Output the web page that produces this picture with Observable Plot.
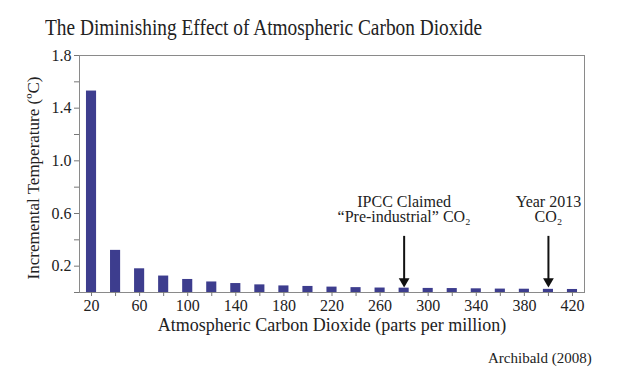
<!DOCTYPE html>
<html>
<head>
<meta charset="utf-8">
<script src="https://cdn.jsdelivr.net/npm/d3@7"></script>
<script src="https://cdn.jsdelivr.net/npm/@observablehq/plot@0.6"></script>
<style>
  body { margin: 0; background: #fff; width: 625px; height: 381px; position: relative; overflow: hidden; font-family: "Liberation Serif", "Times New Roman", serif; }
  #title { position: absolute; left: 45px; top: 15px; font-size: 22.5px; color: #222; white-space: nowrap; transform: scaleX(0.86); transform-origin: 0 0; }
  #caption { position: absolute; left: 488px; top: 350px; font-size: 15px; color: #222; white-space: nowrap; }
  #chart { position: absolute; left: 0; top: 0; }
</style>
</head>
<body>
<div id="chart"></div>
<div id="title">The Diminishing Effect of Atmospheric Carbon Dioxide</div>
<div id="caption">Archibald (2008)</div>
<script>
const ppm = [20, 40, 60, 80, 100, 120, 140, 160, 180, 200, 220, 240, 260, 280, 300, 320, 340, 360, 380, 400, 420];
const temp = [1.53, 0.32, 0.18, 0.125, 0.099, 0.08, 0.068, 0.058, 0.05, 0.046, 0.041, 0.037, 0.034, 0.033, 0.031, 0.030, 0.028, 0.026, 0.025, 0.024, 0.023];
const xTickLabels = [20, 60, 100, 140, 180, 220, 260, 300, 340, 380, 420];
const xMinorTicks = [40, 80, 120, 160, 200, 240, 280, 320, 360, 400];
const yTickLabels = [0.2, 0.6, 1.0, 1.4, 1.8];
const yMinorTicks = [0, 0.4, 0.8, 1.2, 1.6];
const annotPpm = [280, 400];
const annotText = ["IPCC Claimed\n\u201CPre-industrial\u201D CO\u2082", "Year 2013\nCO\u2082"];
const annotTextY = [0.63, 0.63];
const arrowFrom = [0.43, 0.43];
const arrowTo = [0.085, 0.085];
const xLabel = "Atmospheric Carbon Dioxide (parts per million)";
const yLabel = "Incremental Temperature (\u00BAC)";

const bars = ppm.map((p, i) => ({ppm: p, temp: temp[i]}));
const annots = annotPpm.map((p, i) => ({ppm: p, text: annotText[i], ty: annotTextY[i], y1: arrowFrom[i], y2: arrowTo[i]}));

const font = "Liberation Serif, Times New Roman, serif";
const barColor = "#3d3d8e";

const chart = Plot.plot({
  width: 625,
  height: 381,
  marginTop: 55,
  marginBottom: 89,
  marginLeft: 79,
  marginRight: 41,
  style: {fontFamily: font, color: "#222", background: "transparent"},
  x: {type: "linear", domain: [10, 430]},
  y: {domain: [0, 1.8]},
  marks: [
    Plot.rectY(bars, {x1: d => d.ppm - 4.2, x2: d => d.ppm + 4.2, y1: 0, y2: "temp", fill: barColor}),
    Plot.frame({stroke: "#8a8a8a", strokeWidth: 1}),
    Plot.axisY({ticks: yTickLabels, tickFormat: d3.format(".1f"), tickSize: 5, tickPadding: 3, fontSize: 16, stroke: "#777", label: null}),
    Plot.axisY({ticks: yMinorTicks, tickFormat: () => "", tickSize: 5, stroke: "#777", label: null}),
    Plot.axisX({ticks: xTickLabels, tickFormat: d => String(d), tickSize: 4, tickPadding: 3, fontSize: 16, stroke: "#777", label: null}),
    Plot.axisX({ticks: xMinorTicks, tickFormat: () => "", tickSize: 4, stroke: "#777", label: null}),
    Plot.text([xLabel], {text: d => d, frameAnchor: "bottom", dy: 38, fontSize: 18, fill: "#222"}),
    Plot.text([yLabel], {text: d => d, frameAnchor: "left", textAnchor: "middle", rotate: -90, dx: -46, dy: 4, fontSize: 17, fill: "#222"}),
    Plot.text(annots, {x: "ppm", y: "ty", text: "text", fontSize: 16, lineHeight: 0.98, fill: "#222"}),
    Plot.link(annots, {x1: "ppm", x2: "ppm", y1: "y1", y2: "y2", stroke: "#111", strokeWidth: 2}),
    Plot.dot(annots, {x: "ppm", y: "y2", symbol: "triangle", rotate: 180, r: 4, fill: "#111", stroke: "none"})
  ]
});
document.getElementById("chart").appendChild(chart);
</script>
</body>
</html>
